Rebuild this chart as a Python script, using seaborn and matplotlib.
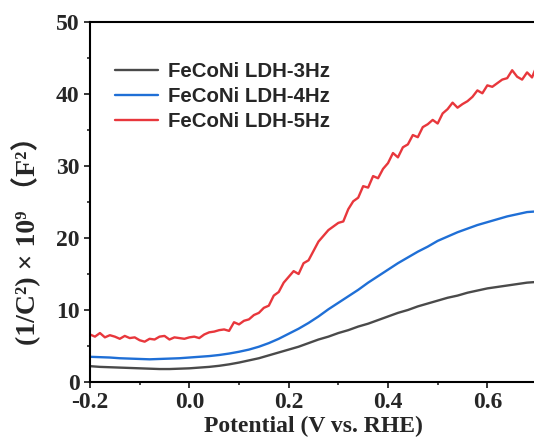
import numpy as np
import pandas as pd
import matplotlib
matplotlib.use("Agg")
import matplotlib.pyplot as plt
from matplotlib.ticker import MultipleLocator
import seaborn as sns

# ---- data ----
x_red = [round(-0.20 + 0.01 * i, 2) for i in range(91)]
y_red = [6.6, 6.3, 6.8, 6.2, 6.5, 6.3, 6.0, 6.4, 6.1, 6.2,
         5.8, 5.6, 6.0, 5.9, 6.3, 6.4, 5.9, 6.2, 6.1, 6.0,
         6.2, 6.3, 6.1, 6.6, 6.9, 7.0, 7.2, 7.3, 7.1, 8.3,
         8.0, 8.5, 8.7, 9.3, 9.6, 10.3, 10.6, 12.0, 12.5, 13.8,
         14.6, 15.4, 15.0, 16.5, 16.9, 18.2, 19.5, 20.3, 21.1, 21.6,
         22.1, 22.3, 24.0, 25.1, 25.6, 27.2, 27.0, 28.6, 28.3, 29.6,
         30.4, 31.8, 31.2, 32.6, 33.0, 34.3, 34.0, 35.4, 35.8, 36.4,
         35.9, 37.3, 37.9, 38.8, 38.1, 38.6, 39.0, 39.6, 40.5, 40.1,
         41.2, 41.0, 41.5, 42.0, 42.2, 43.3, 42.4, 42.0, 43.0, 42.3,
         44.0]

x_smooth = [round(-0.20 + 0.02 * i, 2) for i in range(46)]
y_blue = [3.5, 3.45, 3.4, 3.3, 3.25, 3.2, 3.15, 3.2, 3.25, 3.3,
          3.4, 3.5, 3.6, 3.75, 3.95, 4.2, 4.5, 4.9, 5.4, 6.0,
          6.7, 7.4, 8.2, 9.1, 10.1, 11.0, 11.9, 12.8, 13.8, 14.7,
          15.6, 16.5, 17.3, 18.1, 18.8, 19.6, 20.2, 20.8, 21.3, 21.8,
          22.2, 22.6, 23.0, 23.3, 23.6, 23.7]
y_grey = [2.2, 2.1, 2.05, 2.0, 1.95, 1.9, 1.85, 1.8, 1.8, 1.85,
          1.9, 2.0, 2.1, 2.25, 2.45, 2.7, 3.0, 3.3, 3.7, 4.1,
          4.5, 4.9, 5.4, 5.9, 6.3, 6.8, 7.2, 7.7, 8.1, 8.6,
          9.1, 9.6, 10.0, 10.5, 10.9, 11.3, 11.7, 12.0, 12.4, 12.7,
          13.0, 13.2, 13.4, 13.6, 13.8, 13.9]

labels = ["FeCoNi LDH-3Hz", "FeCoNi LDH-4Hz", "FeCoNi LDH-5Hz"]
colors = ["#4a4a4a", "#1f6fd6", "#e8373c"]
x_ticks = [-0.2, 0.0, 0.2, 0.4, 0.6]
y_ticks = [0, 10, 20, 30, 40, 50]

df = pd.concat([
    pd.DataFrame({"x": x_smooth, "y": y_grey, "s": labels[0]}),
    pd.DataFrame({"x": x_smooth, "y": y_blue, "s": labels[1]}),
    pd.DataFrame({"x": x_red, "y": y_red, "s": labels[2]}),
], ignore_index=True)

sns.set_theme(style="ticks")
plt.rcParams["font.family"] = ["Liberation Serif", "Noto Sans CJK SC"]
plt.rcParams["font.weight"] = "bold"

fig = plt.figure(figsize=(5.34, 4.48), dpi=100)
ax = fig.add_axes([90 / 534, 1 - 382 / 448, 447 / 534, 360 / 448])

sns.lineplot(data=df, x="x", y="y", hue="s", hue_order=labels,
             palette=dict(zip(labels, colors)), estimator=None,
             sort=False, linewidth=1.7, ax=ax)

ax.set_xlim(-0.2, 0.7)
ax.set_ylim(0, 50)
ax.set_xticks(x_ticks)
ax.set_xticklabels([f"{v:.1f}" for v in x_ticks])
ax.set_yticks(y_ticks)
ax.xaxis.set_minor_locator(MultipleLocator(0.1))
ax.yaxis.set_minor_locator(MultipleLocator(5))
ax.tick_params(which="major", direction="out", length=4.5, width=1.3,
               labelsize=17, pad=3)
ax.tick_params(which="minor", direction="out", length=2.5, width=1.2)
ax.tick_params(top=False, right=False, which="both")
for lab in ax.get_xticklabels() + ax.get_yticklabels():
    lab.set_fontweight("bold")
for sp in ["left", "bottom", "top"]:
    ax.spines[sp].set_linewidth(1.5)
    ax.spines[sp].set_color("black")
ax.spines["right"].set_visible(False)

ax.set_xlabel("Potential (V vs. RHE)", fontsize=17, fontweight="bold", labelpad=2)
ax.set_ylabel("(1/C²) × 10⁹ （F²）", fontsize=20, fontweight="bold")
ax.yaxis.set_label_coords(-0.11, 0.41)

leg = ax.legend(loc="upper left", bbox_to_anchor=(115 / 534, 1 - 62 / 448),
                bbox_transform=fig.transFigure, frameon=False,
                borderpad=0, borderaxespad=0, handlelength=2.1,
                handletextpad=0.5, labelspacing=0.3,
                prop={"family": "Liberation Sans", "weight": "bold", "size": 14.7})

fig.savefig("out.png", dpi=100)
